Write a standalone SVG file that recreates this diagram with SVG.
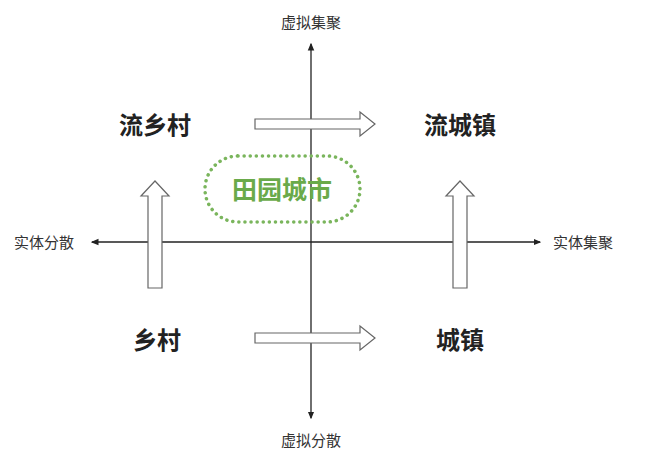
<svg xmlns="http://www.w3.org/2000/svg" width="658" height="456" viewBox="0 0 658 456">
<style>
.ax{stroke:#222;stroke-width:1.3;fill:none}
.big{font-family:"Noto Sans CJK SC",sans-serif;font-size:24px;font-weight:bold;fill:#222;text-anchor:middle}
.sm{font-family:"Noto Sans CJK SC",sans-serif;font-size:15px;fill:#333;text-anchor:middle}
.ar{fill:#fff;stroke:#666;stroke-width:1.2}
</style>
<defs><marker id="m" markerWidth="6" markerHeight="6" refX="5" refY="3" orient="auto"><path d="M0,0.5 L6,3 L0,5.5Z" fill="#222"/></marker></defs>
<rect width="658" height="456" fill="#fff"/>
<g id="connectors">
<line class="ax" x1="311" y1="242" x2="311" y2="44" marker-end="url(#m)"/>
<line class="ax" x1="311" y1="242" x2="311" y2="418" marker-end="url(#m)"/>
<line class="ax" x1="311" y1="242" x2="92" y2="242" marker-end="url(#m)"/>
<line class="ax" x1="311" y1="242" x2="540" y2="242" marker-end="url(#m)"/>
<path class="ar" d="M148,288 V196 H141 L155,181 L169,196 H162 V288 Z"/>
<path class="ar" d="M453,288 V196 H446 L460,181 L474,196 H467 V288 Z"/>
<path class="ar" d="M255,119 H360 V112 L375,124 L360,136 V129 H255 Z"/>
<path class="ar" d="M255,333 H360 V326 L375,338 L360,350 V343 H255 Z"/>
</g>
<g id="pill"><rect x="205" y="156" width="155" height="66" rx="33" fill="none" stroke="#7ab55c" stroke-width="3.5" stroke-dasharray="0.1 6" stroke-linecap="round"/>
<text x="282" y="199" font-family="Noto Sans CJK SC,sans-serif" font-size="25" font-weight="bold" fill="#6aaa4a" text-anchor="middle">田园城市</text></g>
<g id="n1"><text class="big" x="155" y="134">流乡村</text></g>
<g id="n2"><text class="big" x="460" y="134">流城镇</text></g>
<g id="n3"><text class="big" x="157" y="349">乡村</text></g>
<g id="n4"><text class="big" x="460" y="349">城镇</text></g>
<g id="labels">
<text class="sm" x="311" y="28">虚拟集聚</text>
<text class="sm" x="311" y="446">虚拟分散</text>
<text class="sm" x="44" y="248">实体分散</text>
<text class="sm" x="583" y="248">实体集聚</text>
</g>
</svg>
